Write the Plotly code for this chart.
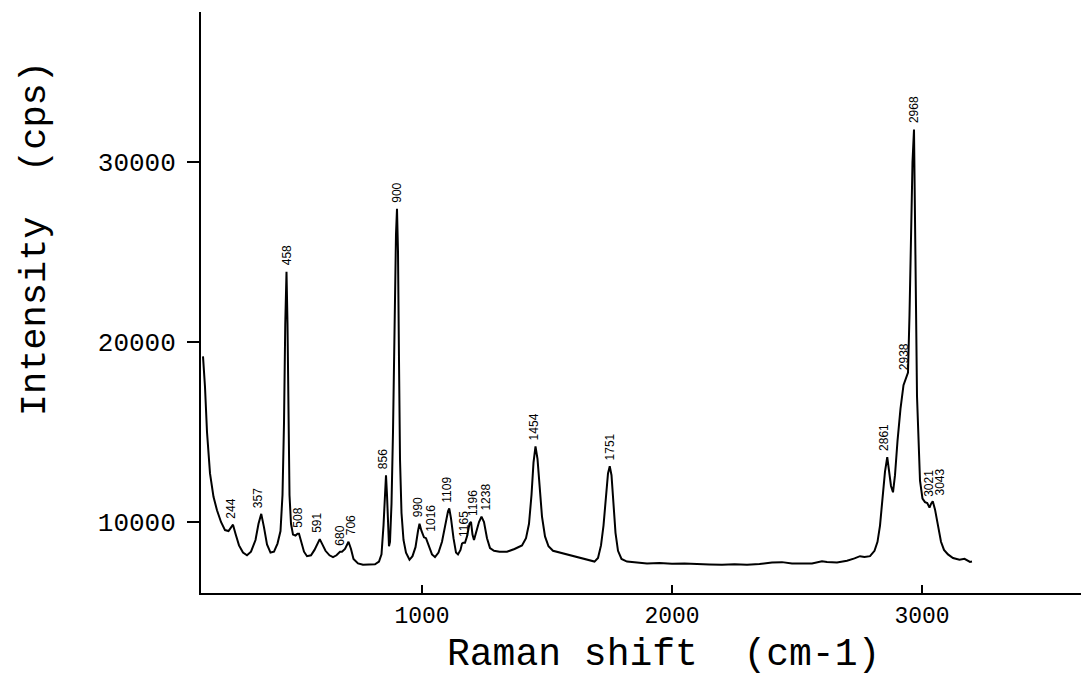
import plotly.graph_objects as go

# Raman spectrum (wavenumber cm-1, intensity cps)
shift = [124, 132, 140, 152, 166, 180, 196, 212, 226, 236, 244, 254, 268, 284, 300, 316, 334, 346, 357, 368,
         380, 394, 408, 422, 434, 442, 448, 453, 458, 462, 466, 470, 476, 484, 494, 502, 508, 516, 528, 540,
         556, 570, 582, 591, 600, 614, 630, 644, 658, 672, 680, 692, 706, 716, 726, 744, 764, 790, 812, 828,
         838, 846, 852, 856, 860, 864, 868, 872, 878, 884, 890, 896, 900, 904, 908, 912, 918, 926, 936, 950,
         962, 974, 984, 990, 998, 1008, 1016, 1026, 1040, 1052, 1066, 1080, 1094, 1104, 1109, 1116, 1126, 1136, 1144, 1154,
         1160, 1165, 1172, 1180, 1190, 1196, 1202, 1208, 1216, 1228, 1238, 1248, 1260, 1272, 1288, 1310, 1340, 1370, 1400, 1416,
         1428, 1438, 1446, 1454, 1462, 1470, 1480, 1492, 1506, 1524, 1550, 1580, 1620, 1660, 1690, 1704, 1716, 1726, 1736, 1744,
         1751, 1758, 1766, 1774, 1784, 1798, 1820, 1860, 1900, 1950, 2000, 2050, 2100, 2150, 2200, 2250, 2300, 2350, 2400, 2440,
         2480, 2520, 2560, 2600, 2620, 2660, 2700, 2730, 2752, 2770, 2792, 2810, 2822, 2832, 2842, 2852, 2861, 2868, 2876, 2884,
         2892, 2902, 2914, 2926, 2934, 2938, 2944, 2950, 2956, 2962, 2968, 2972, 2976, 2980, 2986, 2992, 3002, 3012, 3021, 3030,
         3036, 3043, 3052, 3064, 3076, 3088, 3104, 3124, 3150, 3170, 3192, 3200]
intensity = [19200, 17500, 15000, 12700, 11400, 10650, 10000, 9550, 9500, 9700, 9850, 9350, 8700, 8300, 8150, 8350, 9000, 9900, 10450, 9700,
             8750, 8300, 8350, 8800, 9500, 11500, 15500, 21000, 23900, 21000, 15000, 11500, 9900, 9300, 9250, 9350, 9350, 8900, 8350, 8100,
             8150, 8450, 8850, 9050, 8800, 8400, 8150, 8050, 8150, 8350, 8350, 8500, 8900, 8500, 7950, 7700, 7620, 7620, 7650, 7800,
             8200, 9800, 11800, 12600, 11500, 9400, 8650, 8900, 11000, 15000, 21000, 26000, 27400, 25000, 19000, 13500, 10500, 9000, 8300, 7900,
             8100, 8600, 9500, 9900, 9500, 9150, 9100, 8700, 8200, 8050, 8300, 8900, 9900, 10600, 10750, 10200, 9100, 8300, 8200, 8450,
             8800, 8850, 8850, 9200, 9900, 10000, 9300, 9000, 9400, 10000, 10300, 10000, 9100, 8550, 8400, 8350, 8350, 8500, 8700, 9100,
             9900, 11500, 13300, 14200, 13500, 11800, 10300, 9200, 8650, 8400, 8300, 8200, 8050, 7900, 7800, 8000, 8700, 9800, 11500, 12700,
             13100, 12600, 11000, 9400, 8400, 7950, 7800, 7750, 7700, 7720, 7680, 7700, 7650, 7640, 7620, 7650, 7620, 7660, 7750, 7770,
             7700, 7680, 7700, 7820, 7780, 7750, 7850, 7980, 8100, 8050, 8100, 8400, 8900, 9800, 11200, 12800, 13600, 12900, 12000, 11650,
             12600, 14500, 16300, 17600, 17900, 18100, 18300, 21500, 26000, 30000, 31800, 28000, 22000, 17000, 14500, 12300, 11300, 11100, 11050, 10800,
             11000, 11150, 10700, 9700, 8900, 8450, 8200, 8000, 7900, 7950, 7780, 7800]

# Peak labels and the intensity at each labelled peak
peak_labels = ["244", "357", "458", "508", "591", "680", "706", "856", "900", "990", "1016",
               "1109", "1165", "1196", "1238", "1454", "1751", "2861", "2938", "2968", "3021", "3043"]
peak_heights = [9850, 10450, 23900, 9350, 9050, 8350, 8900, 12600, 27400, 9900, 9100,
                10750, 8850, 10000, 10300, 14200, 13100, 13600, 18100, 31800, 11050, 11150]

x_ticks = [1000, 2000, 3000]
x_tick_text = ["1000", "2000", "3000"]
y_ticks = [10000, 20000, 30000]
y_tick_text = ["10000", "20000", "30000"]

# small pixel nudges for crowded labels (style only)
label_xshift = {"244": -2, "357": -3, "508": -1, "591": -3, "680": -2, "706": 2, "856": -3, "990": -2,
                "1016": 5, "1109": -2, "1196": 2, "1238": 5, "1454": -2, "2861": -4, "2938": -3,
                "3021": 1, "3043": 7}

fig = go.Figure()
fig.add_trace(go.Scatter(x=shift, y=intensity, mode="lines",
                         line=dict(color="black", width=2), hoverinfo="skip"))

for lab, h in zip(peak_labels, peak_heights):
    fig.add_annotation(x=float(lab), y=h, text=lab, textangle=-90, showarrow=False,
                       xanchor="center", yanchor="bottom", yshift=4,
                       xshift=label_xshift.get(lab, 0),
                       font=dict(family="Liberation Sans, Arial", size=12, color="black"))

mono = "Liberation Mono, DejaVu Sans Mono, monospace"
fig.add_annotation(xref="paper", yref="paper", x=0.525, y=-0.066, text="Raman shift  (cm-1)",
                   showarrow=False, xanchor="center", yanchor="top",
                   font=dict(family=mono, size=38, color="black"))
fig.add_annotation(xref="paper", yref="paper", x=-0.189, y=0.61, text="Intensity  (cps)",
                   showarrow=False, textangle=-90, xanchor="center", yanchor="middle",
                   font=dict(family=mono, size=37, color="black"))

fig.update_layout(
    width=1081, height=683,
    margin=dict(l=201, r=0, t=12, b=90, autoexpand=False),
    paper_bgcolor="white", plot_bgcolor="white",
    showlegend=False,
    xaxis=dict(range=[116, 3636], tickvals=x_ticks, ticktext=x_tick_text, ticks="inside", ticklen=8,
               tickwidth=2, tickcolor="black", showline=True, linecolor="black", linewidth=2,
               showgrid=False, zeroline=False, automargin=False,
               tickfont=dict(family=mono, size=23, color="black")),
    yaxis=dict(range=[6055, 38333], tickvals=y_ticks, ticktext=y_tick_text, ticks="outside", ticklen=12,
               tickwidth=2, tickcolor="black", showline=True, linecolor="black", linewidth=2,
               showgrid=False, zeroline=False, ticklabelstandoff=6, automargin=False,
               tickfont=dict(family=mono, size=26, color="black")),
)

fig.write_html("out.html", config={"displayModeBar": False},
               post_script="document.body.style.margin='0';document.body.style.overflow='hidden';")
